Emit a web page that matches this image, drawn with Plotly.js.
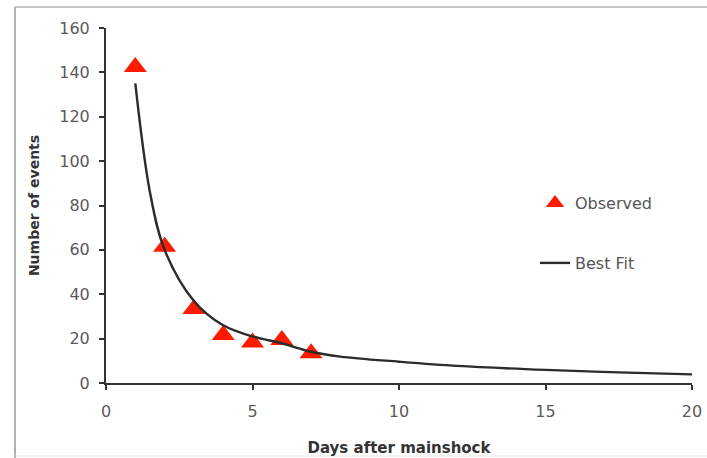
<!DOCTYPE html>
<html>
<head>
<meta charset="utf-8">
<script src="https://cdn.plot.ly/plotly-3.0.1.min.js"></script>
<style>
html,body{margin:0;padding:0;background:#fff;}
#chart{width:707px;height:458px;}
</style>
</head>
<body>
<div id="chart"></div>
<script>
// Observed aftershock counts
const obsDays = [1, 2, 3, 4, 5, 6, 7];
const obsCounts = [142.4, 61.4, 33.3, 21.6, 18.3, 19.4, 13.4];
// Best-fit curve
const fitDays = [1, 1.5, 2, 3, 4, 5, 6, 7, 8, 10, 12, 15, 17.5, 20];
const fitCounts = [135, 86, 60, 37, 26, 21, 17.9, 14.1, 11.9, 9.6, 7.7, 5.9, 4.8, 3.9];
const xTicks = [0, 5, 10, 15, 20];
const yTicks = [0, 20, 40, 60, 80, 100, 120, 140, 160];

const L = 106, R = 692, T = 28, B = 383, W = 707, H = 458;
const px = v => (v - L) / (R - L);
const py = v => (B - v) / (B - T);

const tickFont = {family: 'DejaVu Sans', size: 16, color: '#5a5a5a'};

const traces = [
  {
    x: obsDays, y: obsCounts, name: 'Observed', type: 'scatter', mode: 'markers',
    marker: {symbol: 'triangle-up', size: 20, color: '#ff1a00'},
    legend: 'legend', cliponaxis: false
  },
  {
    x: fitDays, y: fitCounts, name: 'Best Fit', type: 'scatter', mode: 'lines',
    line: {color: '#2b2b2b', width: 2.4, shape: 'spline', smoothing: 1},
    legend: 'legend2'
  }
];

const legendFont = {family: 'DejaVu Sans', size: 16, color: '#555555'};
const layout = {
  width: W, height: H,
  margin: {l: L, r: W - R, t: T, b: H - B, pad: 0},
  paper_bgcolor: '#ffffff', plot_bgcolor: '#ffffff',
  showlegend: true,
  legend: {x: px(535), y: py(203), xanchor: 'left', yanchor: 'middle', font: legendFont,
           bgcolor: 'rgba(0,0,0,0)', itemwidth: 30, tracegroupgap: 0},
  legend2: {x: px(535), y: py(263), xanchor: 'left', yanchor: 'middle', font: legendFont,
            bgcolor: 'rgba(0,0,0,0)', itemwidth: 30},
  xaxis: {
    range: [0, 20], tickvals: xTicks, ticktext: xTicks.map(String),
    showgrid: false, zeroline: false, showline: true, linecolor: '#333333', linewidth: 2,
    ticks: 'outside', ticklen: 5, tickwidth: 2, tickcolor: '#333333',
    tickfont: tickFont, ticklabelstandoff: 8,
    title: {text: '<b>Days after mainshock</b>', font: {family: 'DejaVu Sans', size: 15, color: '#333333'}, standoff: 22}
  },
  yaxis: {
    range: [0, 160], tickvals: yTicks, ticktext: yTicks.map(String),
    showgrid: false, zeroline: false, showline: true, linecolor: '#333333', linewidth: 2,
    ticks: 'outside', ticklen: 5, tickwidth: 2, tickcolor: '#333333',
    tickfont: tickFont, ticklabelstandoff: 6,
    title: {text: '<b>Number of events</b>', font: {family: 'DejaVu Sans', size: 14, color: '#333333'}, standoff: 16}
  },
  shapes: [
    {type: 'line', xref: 'paper', yref: 'paper', x0: px(15), x1: px(707), y0: py(7), y1: py(7),
     line: {color: '#c8c8c8', width: 2}},
    {type: 'line', xref: 'paper', yref: 'paper', x0: px(15), x1: px(15), y0: py(7), y1: py(458),
     line: {color: '#b0b0b0', width: 2}},
    {type: 'line', xref: 'paper', yref: 'paper', x0: px(15), x1: px(707), y0: py(456), y1: py(456),
     line: {color: '#e6e6e6', width: 1}}
  ]
};

Plotly.newPlot('chart', traces, layout, {displayModeBar: false, staticPlot: true});
</script>
</body>
</html>
